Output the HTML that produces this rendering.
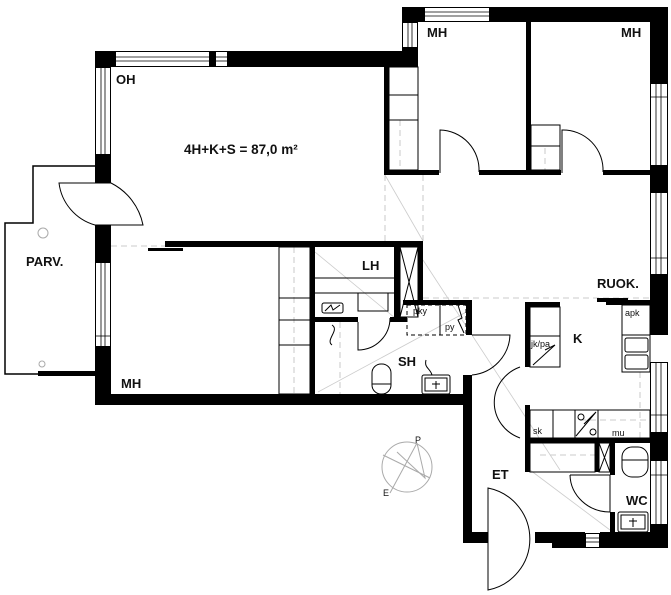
<!DOCTYPE html>
<html><head><meta charset="utf-8"><style>
html,body{margin:0;padding:0;background:#fff;}
svg{display:block;}
text{font-family:"Liberation Sans",Arial,sans-serif;font-weight:bold;fill:#111;}
.t{font-size:13px}
.m{font-size:13.5px}
.s{font-size:9px;font-weight:normal}
</style></head><body>
<svg width="671" height="595" viewBox="0 0 671 595" xmlns="http://www.w3.org/2000/svg">
<g fill="none" stroke="#bbb" stroke-width="0.8" stroke-dasharray="6,4">
<line x1="111" y1="246" x2="300" y2="246"/>
<line x1="385" y1="175" x2="385" y2="241"/>
<line x1="423" y1="175" x2="423" y2="241"/>
<line x1="423" y1="298" x2="650" y2="298"/>
<line x1="294" y1="247" x2="294" y2="394"/>
<line x1="400" y1="120" x2="400" y2="170"/>
<line x1="545" y1="148" x2="545" y2="173"/>
<line x1="540" y1="455" x2="595" y2="455"/>
<line x1="640" y1="372" x2="640" y2="438"/>
<line x1="580" y1="420" x2="650" y2="420"/>
<line x1="340" y1="322" x2="340" y2="394"/>
</g>
<g stroke="#ccc" stroke-width="0.8" fill="none">
<line x1="385" y1="175" x2="423" y2="241"/>
<line x1="315" y1="252" x2="395" y2="318"/>
<line x1="318" y1="392" x2="470" y2="310"/>
<line x1="423" y1="260" x2="560" y2="470"/>
<line x1="530" y1="470" x2="610" y2="530"/>
</g>
<path d="M95,166 H33 V223 H5 V374 H38" fill="none" stroke="#000" stroke-width="1.5"/>
<rect x="38" y="371" width="57" height="5" fill="#000"/>
<circle cx="43" cy="233" r="5" fill="none" stroke="#aaa"/>
<circle cx="42" cy="364" r="3" fill="none" stroke="#aaa"/>
<g fill="#000">
<rect x="95" y="51" width="323" height="16"/>
<rect x="95" y="155" width="16" height="28"/>
<rect x="95" y="225" width="16" height="37"/>
<rect x="95" y="347" width="16" height="58"/>
<rect x="95" y="394" width="377" height="11"/>
<rect x="165" y="241" width="258" height="6"/>
<rect x="148" y="248" width="35" height="3"/>
<rect x="402" y="7" width="266" height="15"/>
<rect x="402" y="48" width="16" height="19"/>
<rect x="384" y="67" width="5" height="108"/>
<rect x="526" y="22" width="5" height="151"/>
<rect x="384" y="170" width="55" height="5"/>
<rect x="479" y="170" width="82" height="5"/>
<rect x="603" y="170" width="47" height="5"/>
<rect x="650" y="7" width="18" height="76"/>
<rect x="650" y="166" width="18" height="26"/>
<rect x="650" y="275" width="18" height="60"/>
<rect x="650" y="433" width="18" height="27"/>
<rect x="650" y="525" width="18" height="23"/>
<rect x="310" y="241" width="5" height="158"/>
<rect x="394" y="241" width="6" height="80"/>
<rect x="418" y="241" width="5" height="60"/>
<rect x="315" y="317" width="43" height="5"/>
<rect x="390" y="317" width="17" height="5"/>
<rect x="403" y="300" width="69" height="5"/>
<rect x="466" y="300" width="6" height="35"/>
<rect x="463" y="375" width="9" height="168"/>
<rect x="463" y="532" width="25" height="11"/>
<rect x="535" y="532" width="17" height="11"/>
<rect x="552" y="532" width="33" height="16"/>
<rect x="600" y="532" width="68" height="16"/>
<rect x="525" y="302" width="35" height="5"/>
<rect x="525" y="302" width="5" height="65"/>
<rect x="525" y="405" width="5" height="67"/>
<rect x="525" y="438" width="125" height="5"/>
<rect x="595" y="443" width="4" height="29"/>
<rect x="610" y="443" width="5" height="32"/>
<rect x="610" y="512" width="5" height="25"/>
<rect x="597" y="298" width="31" height="4"/>
<rect x="606" y="300" width="44" height="5"/>
</g>
<g fill="#fff" stroke="#000" stroke-width="1">
<rect x="115.5" y="51.5" width="94" height="15"/>
<rect x="215.5" y="51.5" width="12" height="15"/>
<rect x="95.5" y="67.5" width="15" height="87"/>
<rect x="95.5" y="262.5" width="15" height="84"/>
<rect x="424.5" y="7.5" width="65" height="14"/>
<rect x="402.5" y="22.5" width="15" height="25"/>
<rect x="650.5" y="83.5" width="17" height="82"/>
<rect x="650.5" y="192.5" width="17" height="82"/>
<rect x="650.5" y="362.5" width="17" height="70"/>
<rect x="650.5" y="460.5" width="17" height="64"/>
<rect x="585.5" y="533.5" width="14" height="14"/>
</g>
<g stroke="#000" stroke-width="0.8">
<line x1="115" y1="57" x2="210" y2="57"/><line x1="115" y1="61" x2="210" y2="61"/>
<line x1="215" y1="57" x2="228" y2="57"/><line x1="215" y1="61" x2="228" y2="61"/>
<line x1="101" y1="67" x2="101" y2="155"/><line x1="105" y1="67" x2="105" y2="155"/>
<line x1="101" y1="262" x2="101" y2="347"/><line x1="105" y1="262" x2="105" y2="347"/>
<line x1="95" y1="336" x2="111" y2="336"/>
<line x1="424" y1="12" x2="490" y2="12"/><line x1="424" y1="16" x2="490" y2="16"/>
<line x1="408" y1="22" x2="408" y2="48"/><line x1="412" y1="22" x2="412" y2="48"/>
<line x1="656" y1="83" x2="656" y2="166"/><line x1="661" y1="83" x2="661" y2="166"/>
<line x1="650" y1="97" x2="668" y2="97"/>
<line x1="656" y1="192" x2="656" y2="275"/><line x1="661" y1="192" x2="661" y2="275"/>
<line x1="650" y1="258" x2="668" y2="258"/>
<line x1="656" y1="362" x2="656" y2="433"/><line x1="661" y1="362" x2="661" y2="433"/>
<line x1="650" y1="415" x2="668" y2="415"/>
<line x1="656" y1="460" x2="656" y2="525"/><line x1="661" y1="460" x2="661" y2="525"/>
<line x1="650" y1="475" x2="668" y2="475"/>
<line x1="586" y1="538" x2="600" y2="538"/><line x1="586" y1="542" x2="600" y2="542"/>
</g>
<g fill="none" stroke="#000" stroke-width="1">
<path d="M59,183 H111 A60,60 0 0 1 143,225 H95 A50,50 0 0 1 59,183 Z" fill="#fff"/>
<path d="M440,173 V130 A40,40 0 0 1 479,172"/>
<path d="M562,173 V130 A40,40 0 0 1 603,172"/>
<rect x="389" y="67" width="29" height="103"/>
<line x1="389" y1="95" x2="418" y2="95"/><line x1="389" y1="120" x2="418" y2="120"/>
<rect x="531" y="125" width="29" height="45"/><line x1="531" y1="146" x2="560" y2="146"/>
<rect x="279" y="247" width="31" height="147"/>
<line x1="279" y1="298" x2="310" y2="298"/><line x1="279" y1="320" x2="310" y2="320"/><line x1="279" y1="345" x2="310" y2="345"/>
<line x1="315" y1="278" x2="394" y2="278"/><line x1="315" y1="293" x2="394" y2="293"/>
<rect x="400" y="247" width="18" height="70"/>
<line x1="400" y1="247" x2="418" y2="317"/><line x1="418" y1="247" x2="400" y2="317"/>
<rect x="322" y="303" width="21" height="10" rx="2"/>
<path d="M325,311 L331,305 L333,310 L340,305"/>
<rect x="358" y="293" width="30" height="18"/>
<path d="M358,322 V350 A32,32 0 0 0 390,318"/>
<path d="M472,335 H510 A42,42 0 0 1 472,375"/>
<rect x="372" y="364" width="19" height="30" rx="9"/><line x1="372" y1="384" x2="391" y2="384"/>
<rect x="422" y="375" width="28" height="19" rx="2"/><rect x="425" y="378" width="22" height="13"/>
<line x1="436" y1="381" x2="436" y2="389"/><line x1="432" y1="384" x2="440" y2="384"/>
<path d="M432,375 C430,368 424,368 426,360"/>
<path d="M332,325 C340,330 325,340 332,345"/>
<rect x="407" y="305" width="59" height="30" stroke-dasharray="4,3"/>
<line x1="440" y1="305" x2="440" y2="335"/>
<path d="M458,305 L462,318 L458,320 L464,333"/>
<rect x="530" y="307" width="30" height="60"/><line x1="530" y1="336" x2="560" y2="336"/>
<path d="M545,350 L555,345 L533,365"/>
<rect x="622" y="305" width="28" height="67"/><line x1="622" y1="335" x2="650" y2="335"/>
<rect x="625" y="338" width="23" height="14" rx="2"/><rect x="625" y="355" width="23" height="14" rx="2"/>
<rect x="530" y="410" width="120" height="28"/>
<line x1="553" y1="410" x2="553" y2="438"/><line x1="575" y1="410" x2="575" y2="438"/><line x1="598" y1="410" x2="598" y2="438"/>
<path d="M576,436 L596,412 L584,424"/>
<circle cx="581" cy="417" r="3"/><circle cx="593" cy="432" r="3"/>
<path d="M520,367 A40,38 0 0 0 520,438"/>
<rect x="530" y="443" width="65" height="29"/>
<rect x="599" y="443" width="11" height="29"/><line x1="599" y1="443" x2="610" y2="472"/><line x1="610" y1="443" x2="599" y2="472"/>
<path d="M570,475 H610 V512 A40,38 0 0 1 570,475"/>
<rect x="622" y="447" width="26" height="30" rx="10"/><line x1="622" y1="460" x2="648" y2="460"/>
<rect x="618" y="512" width="30" height="20" rx="2"/><rect x="621" y="515" width="24" height="14"/>
<line x1="633" y1="518" x2="633" y2="527"/><line x1="629" y1="521" x2="637" y2="521"/>
<path d="M488,488 A52,52 0 0 1 488,590 Z" fill="#fff"/>
</g>
<g stroke="#aaa" fill="none">
<circle cx="407" cy="467" r="25"/>
<line x1="383" y1="455" x2="430" y2="478"/><line x1="417" y1="443" x2="390" y2="493"/>
<path d="M417,443 L425,478 L397,452"/>
</g>
<text class="t" x="116" y="84">OH</text>
<text class="m" x="184" y="154">4H+K+S = 87,0 m²</text>
<text class="t" x="26" y="266">PARV.</text>
<text class="t" x="121" y="388">MH</text>
<text class="t" x="427" y="37">MH</text>
<text class="t" x="621" y="37">MH</text>
<text class="t" x="362" y="270">LH</text>
<text class="t" x="597" y="288">RUOK.</text>
<text class="t" x="398" y="366">SH</text>
<text class="t" x="573" y="343">K</text>
<text class="t" x="492" y="479">ET</text>
<text class="t" x="626" y="505">WC</text>
<text class="s" x="413" y="314">pky</text>
<text class="s" x="445" y="330">py</text>
<text class="s" x="531" y="347">jk/pa</text>
<text class="s" x="625" y="316">apk</text>
<text class="s" x="533" y="434">sk</text>
<text class="s" x="612" y="436">mu</text>
<text class="s" x="415" y="443" fill="#555">P</text>
<text class="s" x="383" y="496" fill="#555">E</text>
</svg>
</body></html>
